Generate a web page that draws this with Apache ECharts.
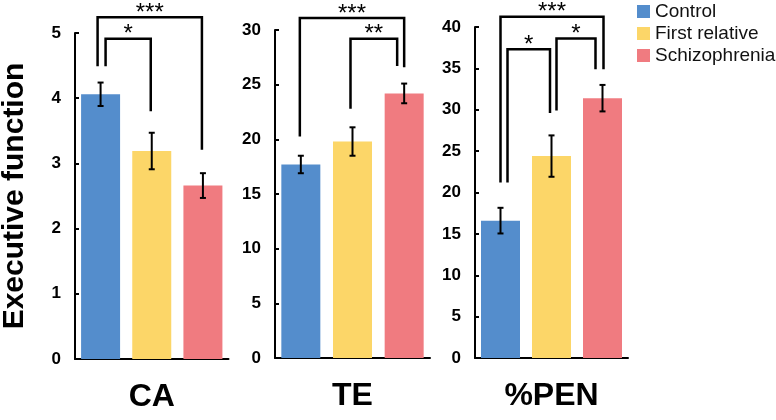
<!DOCTYPE html>
<html><head><meta charset="utf-8">
<script src="https://cdn.jsdelivr.net/npm/echarts@6/dist/echarts.min.js"></script>
<style>html,body{margin:0;padding:0;background:#fff}#c{width:776px;height:420px}</style>
</head><body><div id="c"></div>
<script>
// ---- data ----
const groups = ['Control', 'First relative', 'Schizophrenia'];
const panels = ['CA', 'TE', '%PEN'];
const yMax = [5, 30, 40];
const yStep = [1, 5, 5];
const caMean = [4.06, 3.19, 2.66];
const caErr = [0.18, 0.28, 0.19];
const teMean = [17.7, 19.8, 24.2];
const teErr = [0.8, 1.3, 0.9];
const penMean = [16.6, 24.4, 31.4];
const penErr = [1.55, 2.5, 1.6];
// brackets: [fromGroup, toGroup, topValue, leftLegBottom, rightLegBottom]
const caBrackets = [[0, 2, 5.24, 4.49, 3.21], [0, 1, 4.91, 4.49, 3.80]];
const teBrackets = [[0, 2, 31.1, 20.25, 26.6], [1, 2, 29.2, 22.8, 26.7]];
const penBrackets = [[0, 2, 41.25, 21.2, 34.9], [0, 1, 37.3, 21.2, 29.6], [1, 2, 38.6, 29.9, 34.9]];
const caStars = ['***', '*'];
const teStars = ['***', '**'];
const penStars = ['***', '*', '*'];

// ---- styling / layout ----
const colors = ['#548DCC', '#FCD668', '#F07B80'];
const FONT = 'Liberation Sans, Arial, sans-serif';
const grids = [
  {left: 75, top: 33, width: 153.5, height: 326},
  {left: 275, top: 30, width: 155, height: 328},
  {left: 475, top: 27, width: 153, height: 331}
].map(g => Object.assign(g, {containLabel: false, outerBoundsMode: 'none'}));
const legOffsets = [
  [[-3, -1], [5, -1]],
  [[-1, 0], [-2, -7]],
  [[0, 1], [7, -1.5], [5, -7]]
];
const means = [caMean, teMean, penMean];
const errs = [caErr, teErr, penErr];
const brackets = [caBrackets, teBrackets, penBrackets];
const stars = [caStars, teStars, penStars];

const xAxis = [], yAxis = [], series = [];
panels.forEach((p, i) => {
  xAxis.push({
    type: 'category', gridIndex: i, data: groups,
    axisLine: {lineStyle: {color: '#000', width: 2}},
    axisTick: {inside: true, length: 4, lineStyle: {color: '#000', width: 2}},
    axisLabel: {show: false},
    name: p, nameLocation: 'middle', nameGap: 22,
    nameTextStyle: {fontFamily: FONT, fontWeight: 'bold', fontSize: 32, color: '#000'}
  });
  yAxis.push({
    type: 'value', gridIndex: i, min: 0, max: yMax[i], interval: yStep[i],
    splitLine: {show: false},
    axisLine: {show: true, lineStyle: {color: '#000', width: 2}},
    axisTick: {show: true, inside: true, length: 4, lineStyle: {color: '#000', width: 2}},
    axisLabel: {fontFamily: FONT, fontWeight: 'bold', fontSize: 17, color: '#000', margin: 14},
    name: i === 0 ? 'Executive function' : '',
    nameLocation: 'middle', nameRotate: 90, nameGap: 45,
    nameTextStyle: {fontFamily: FONT, fontWeight: 'bold', fontSize: 30, color: '#000'}
  });
  groups.forEach((g, k) => {
    const d = groups.map((_, j) => j === k ? means[i][j] : '-');
    series.push({
      type: 'bar', name: g, xAxisIndex: i, yAxisIndex: i, data: d,
      barGap: '-100%', barWidth: 39,
      itemStyle: {color: colors[k]}, silent: true
    });
  });
  series.push({
    type: 'custom', xAxisIndex: i, yAxisIndex: i, clip: false, z: 5,
    data: means[i].map((m, j) => [j, m, errs[i][j]]),
    renderItem: (params, api) => {
      const x = api.value(0), m = api.value(1), e = api.value(2);
      const t = api.coord([x, m + e]), b = api.coord([x, m - e]);
      const st = {stroke: '#000', lineWidth: 2};
      return {type: 'group', children: [
        {type: 'line', shape: {x1: t[0], y1: t[1], x2: b[0], y2: b[1]}, style: st},
        {type: 'line', shape: {x1: t[0] - 3, y1: t[1], x2: t[0] + 3, y2: t[1]}, style: st},
        {type: 'line', shape: {x1: b[0] - 3, y1: b[1], x2: b[0] + 3, y2: b[1]}, style: st}
      ]};
    }
  });
  series.push({
    type: 'custom', xAxisIndex: i, yAxisIndex: i, clip: false, z: 6,
    data: brackets[i],
    renderItem: (params, api) => {
      const idx = params.dataIndex;
      const off = legOffsets[i][idx];
      const a = api.value(0), b = api.value(1), top = api.value(2), lb = api.value(3), rb = api.value(4);
      const pTopL = api.coord([a, top]), pTopR = api.coord([b, top]);
      const pL = api.coord([a, lb]), pR = api.coord([b, rb]);
      const xl = pTopL[0] + off[0], xr = pTopR[0] + off[1];
      return {type: 'group', children: [
        {type: 'polyline', shape: {points: [[xl, pL[1]], [xl, pTopL[1]], [xr, pTopR[1]], [xr, pR[1]]]},
         style: {stroke: '#000', lineWidth: 2.5, fill: null}},
        {type: 'text', x: (xl + xr) / 2, y: pTopL[1] + 8,
         style: {text: stars[i][idx], fontFamily: FONT, fontSize: 24, fill: '#000', align: 'center', verticalAlign: 'bottom'}}
      ]};
    }
  });
});

const chart = echarts.init(document.getElementById('c'), null, {renderer: 'canvas'});
chart.setOption({
  animation: false,
  backgroundColor: '#fff',
  grid: grids,
  xAxis, yAxis, series,
  legend: {
    data: groups, orient: 'vertical', left: 632, top: -3,
    icon: 'rect', itemWidth: 13, itemHeight: 13, itemGap: 3,
    textStyle: {fontFamily: FONT, fontSize: 19, color: '#111'}
  }
});
</script></body></html>
